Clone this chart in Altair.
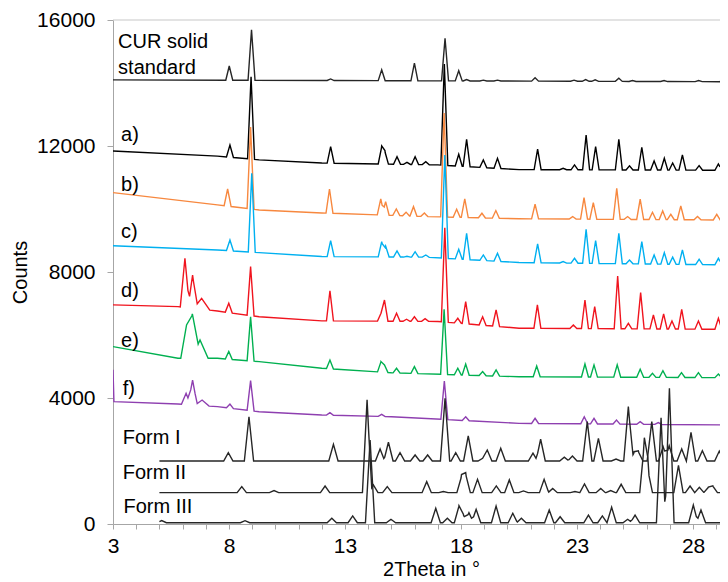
import altair as alt
import numpy as np
import pandas as pd

# ---------------- data ----------------
# baseline anchors (x, counts) and peaks (x, top counts[, half-width])
cur_base = [(3, 14100), (29.5, 14040)]
cur_peaks = [(8.01, 14540), (8.97, 15690), (12.38, 14130), (14.58, 14420), (15.99, 14630),
             (17.31, 15420), (17.9, 14390), (18.24, 14110), (18.96, 14090), (19.57, 14090),
             (21.19, 14170), (22.87, 14090), (23.37, 14110), (23.78, 14100), (24.8, 14150),
             (25.39, 14080), (26.75, 14080), (28.24, 14080), (29.3, 14090)]

a_base = [(3, 11840), (7.5, 11680), (9.3, 11560), (12, 11460), (17, 11400), (20.5, 11250), (29.5, 11230)]
a_peaks = [(8.04, 12030), (8.95, 14200), (12.38, 11980), (14.58, 11980), (14.72, 11820), (15.24, 11660),
           (15.67, 11480), (16.02, 11660), (16.48, 11500), (17.28, 14600), (17.9, 11740), (18.24, 12210),
           (18.96, 11560), (19.57, 11610), (21.3, 11900), (22.4, 11290), (22.89, 11400), (23.39, 12350),
           (23.8, 11980), (24.8, 12210), (25.26, 11370), (25.79, 11960), (26.32, 11525), (26.76, 11610),
           (27.12, 11460), (27.54, 11715), (28.26, 11375), (29.09, 11430), (29.3, 11380)]

b_base = [(3, 10520), (7.5, 10130), (9.3, 9970), (12, 9875), (16.5, 9760), (20.5, 9690), (29.5, 9650)]
b_peaks = [(7.94, 10635), (8.93, 12600), (12.33, 10635), (14.54, 10320), (14.75, 10235), (15.21, 10000),
           (15.63, 9900), (15.95, 10075), (16.42, 9870), (17.27, 13050), (17.81, 9990), (18.16, 10320),
           (18.9, 9865), (19.5, 9950), (21.19, 10150), (22.81, 9760), (23.3, 10360), (23.7, 10200),
           (24.71, 10655), (25.18, 9760), (25.72, 10310), (26.25, 9895), (26.69, 9940), (27.04, 9830),
           (27.47, 10100), (28.19, 9760), (29.02, 9830)]

c_base = [(3, 8835), (7.5, 8700), (9.3, 8615), (12, 8490), (16.5, 8470), (20.5, 8300), (29.5, 8225)]
c_peaks = [(8.04, 9015), (8.98, 11135), (12.38, 8995), (14.58, 8965), (14.75, 8825), (15.24, 8670),
           (15.67, 8500), (16.02, 8645), (16.48, 8540), (17.3, 11715), (17.9, 8720), (18.24, 9230),
           (18.96, 8540), (19.57, 8595), (21.3, 8890), (22.4, 8330), (22.89, 8435), (23.39, 9355),
           (23.8, 9000), (24.8, 9230), (25.26, 8380), (25.79, 8965), (26.32, 8540), (26.76, 8615),
           (27.12, 8470), (27.54, 8700), (28.26, 8405), (29.09, 8435), (29.3, 8380)]

d_base = [(3, 6955), (5.8, 6900), (7.5, 6760), (9.3, 6580), (12, 6450), (17, 6430), (20.5, 6215), (29.5, 6180)]
d_peaks = [(6.1, 8435, 0.2), (6.43, 7905, 0.2), (6.82, 7165, 0.35), (7.99, 7005), (8.93, 8175),
           (12.35, 7405), (14.55, 6690), (14.7, 7110), (15.22, 6690), (15.65, 6500), (15.99, 6580),
           (16.45, 6520), (17.3, 9400), (17.86, 6530), (18.2, 7060), (18.93, 6580), (19.51, 6795),
           (21.29, 6955), (22.84, 6320), (23.34, 7110), (23.76, 6900), (24.75, 7875), (25.21, 6370),
           (25.74, 7345), (26.29, 6635), (26.73, 6670), (27.09, 6445), (27.51, 6815), (28.23, 6445),
           (29.09, 6530)]

e_base = [(3, 5630), (5.8, 5260), (7.5, 5260), (9.3, 5155), (12, 4945), (15, 4800), (20.5, 4675), (29.5, 4645)]
e_peaks = [(6.17, 6320, 0.25), (6.42, 6635, 0.25), (6.75, 5840, 0.35), (7.99, 5475), (8.93, 6580),
           (12.35, 5205), (14.55, 5155), (14.7, 5050), (15.22, 4945), (15.99, 4995), (17.27, 6815),
           (17.86, 4945), (18.2, 5080), (18.93, 4840), (19.51, 4890), (21.26, 5015), (23.34, 5080),
           (23.73, 5050), (24.73, 5050), (25.72, 4910), (26.25, 4785), (26.7, 4865), (27.5, 4805),
           (28.23, 4805), (29.09, 4760)]

f_base = [(3, 4900), (3.04, 3885), (5.8, 3810), (7.5, 3725), (9.3, 3565), (12, 3460), (15, 3405),
          (20.5, 3195), (29.5, 3145)]
f_peaks = [(6.15, 4150, 0.2), (6.43, 4570, 0.2), (6.84, 3935, 0.3), (8.04, 3810), (8.93, 4550),
           (12.35, 3535), (14.58, 3480), (17.28, 4540), (18.2, 3405), (21.19, 3355), (23.31, 3405),
           (23.73, 3355), (24.7, 3300), (25.72, 3250), (26.5, 3220)]

f1_base = [(5, 2000), (29.5, 2000)]
f1_peaks = [(7.97, 2265), (8.86, 3405), (12.5, 2530), (14.51, 2380), (14.87, 2595), (15.37, 2265),
            (16.02, 2190), (16.56, 2190), (17.31, 3990), (17.77, 2265), (18.31, 2795), (18.93, 2085),
            (19.13, 2350), (19.71, 2405), (21.1, 2250), (21.43, 2690), (22.45, 2120), (22.8, 2160),
            (23.44, 3250), (23.92, 2720), (24.68, 2060), (25.21, 3725), (25.46, 2265), (25.64, 2300),
            (26.22, 3250), (26.71, 2455), (26.97, 2485), (27.51, 2380), (27.91, 2910), (28.4, 2330),
            (29.13, 2315), (29.5, 2570)]

f2_base = [(5, 995), (29.5, 995)]
f2_peaks = [(8.55, 1185), (9.94, 1060), (12.14, 1205), (13.95, 3940), (14.22, 1240), (14.82, 1185),
            (16.52, 1345), (17.24, 1030), (18.02, 1510), (18.2, 1580), (18.71, 1420), (19.52, 1210),
            (20.08, 1400), (20.69, 1050), (21.58, 1420), (21.95, 1130), (22.91, 1030), (23.32, 1270),
            (24.02, 1130), (24.45, 1060), (24.9, 1260), (25.9, 2560), (26.05, 1715), (27.37, 1860),
            (27.87, 1205), (28.27, 1165), (28.66, 1165), (28.85, 1205)]

f3_base = [(5, 40), (29.5, 40)]
f3_peaks = [(5.1, 110), (8.69, 105), (12.43, 180), (13.33, 255), (14.08, 2665), (14.98, 150),
            (16.91, 500), (17.41, 180), (17.91, 570), (18.1, 285), (18.34, 360), (18.65, 465),
            (19.51, 570), (20.23, 340), (20.6, 180), (21.8, 445), (22.27, 230), (23.49, 285),
            (24.09, 255), (24.49, 530), (25.18, 150), (25.5, 285), (26.62, 3375), (26.98, 4310),
            (28.01, 600), (28.34, 445)]

series_names = ["CUR", "a", "b", "c", "d", "e", "f", "Form I", "Form II", "Form III"]
series_colors = ["#262626", "#000000", "#F7883F", "#00B0F0", "#F0141E", "#00B050", "#8E3FB0",
                 "#262626", "#262626", "#262626"]
series_base = [cur_base, a_base, b_base, c_base, d_base, e_base, f_base, f1_base, f2_base, f3_base]
series_peaks = [cur_peaks, a_peaks, b_peaks, c_peaks, d_peaks, e_peaks, f_peaks, f1_peaks, f2_peaks, f3_peaks]
series_width = [0.15, 0.15, 0.15, 0.15, 0.15, 0.15, 0.15, 0.2, 0.2, 0.2]

label_text = ["CUR solid", "standard", "a)", "b)", "c)", "d)", "e)", "f)", "Form I", "Form II", "Form III"]
label_x = [3.22, 3.22, 3.35, 3.35, 3.35, 3.35, 3.35, 3.42, 3.42, 3.42, 3.45]
label_y = [15290, 14480, 12350, 10760, 9270, 7400, 5810, 4290, 2715, 1605, 555]

x_ticks = list(range(3, 30))
y_ticks = [0, 4000, 8000, 12000, 16000]
x_max = 29.16


def build(base, peaks, w0):
    bx = np.array([p[0] for p in base], float)
    by = np.array([p[1] for p in base], float)
    pk = [(p[0], p[1], p[2] if len(p) > 2 else w0) for p in peaks]
    xs = set(bx.tolist())
    for px, _, w in pk:
        xs.update([px - w, px, px + w])
    xs = np.array(sorted(x for x in xs if bx[0] <= x <= bx[-1]))
    ys = np.interp(xs, bx, by)
    for px, top, w in pk:
        h = top - np.interp(px, bx, by)
        ys = ys + np.clip(h * (1 - np.abs(xs - px) / w), 0, None)
    return xs, ys


x_scale = alt.Scale(domain=[3, x_max], nice=False, zero=False)
y_scale = alt.Scale(domain=[0, 16000], nice=False)
FONT = "Liberation Sans"

x_axis = alt.Axis(values=x_ticks, labelExpr="(datum.value - 3) % 5 == 0 ? datum.label : ''",
                  title="2Theta in °", grid=False, tickSize=5, labelPadding=6,
                  titleX=318, titleY=45, titleBaseline="middle", titleAlign="center",
                  labelFontSize=21, titleFontSize=20, labelFont=FONT, titleFont=FONT,
                  labelColor="#000000", titleColor="#000000", titleFontWeight="normal",
                  domainColor="#A6A6A6", tickColor="#A6A6A6", labelFlush=False, format="d")
y_axis = alt.Axis(values=y_ticks, title="Counts", grid=False, tickSize=6, labelPadding=12,
                  titleX=-93, titleY=252, titleAngle=270, titleBaseline="middle", titleAlign="center",
                  labelFontSize=21, titleFontSize=20, labelFont=FONT, titleFont=FONT,
                  labelColor="#000000", titleColor="#000000", titleFontWeight="normal",
                  domainColor="#A6A6A6", tickColor="#A6A6A6", format="d")

X = lambda: alt.X("x:Q", scale=x_scale, axis=x_axis)
Y = lambda: alt.Y("y:Q", scale=y_scale, axis=y_axis)

layers = []
for i, name in enumerate(series_names):
    xs, ys = build(series_base[i], series_peaks[i], series_width[i])
    df = pd.DataFrame({"x": xs, "y": ys, "s": name})
    layers.append(alt.Chart(df).mark_line(color=series_colors[i], strokeWidth=1.4, clip=True)
                  .encode(x=X(), y=Y(), order="x:Q"))

top_rule = alt.Chart(pd.DataFrame({"x": [3], "x2": [x_max], "y": [16000]})).mark_rule(
    color="#C8C8C8", strokeWidth=1.2).encode(x=X(), x2="x2:Q", y=Y())

labels = alt.Chart(pd.DataFrame({"t": label_text, "x": label_x, "y": label_y})).mark_text(
    align="left", baseline="middle", fontSize=20, font=FONT, color="#000000").encode(
    x=X(), y=Y(), text="t:N")

chart = alt.layer(top_rule, *layers, labels).properties(
    width=607, height=504, autosize="none",
    padding={"left": 105, "top": 12, "right": 0, "bottom": 57},
    background="white",
).configure_view(stroke=None)

chart.save("out.html", embed_options={"renderer": "svg", "actions": False})
